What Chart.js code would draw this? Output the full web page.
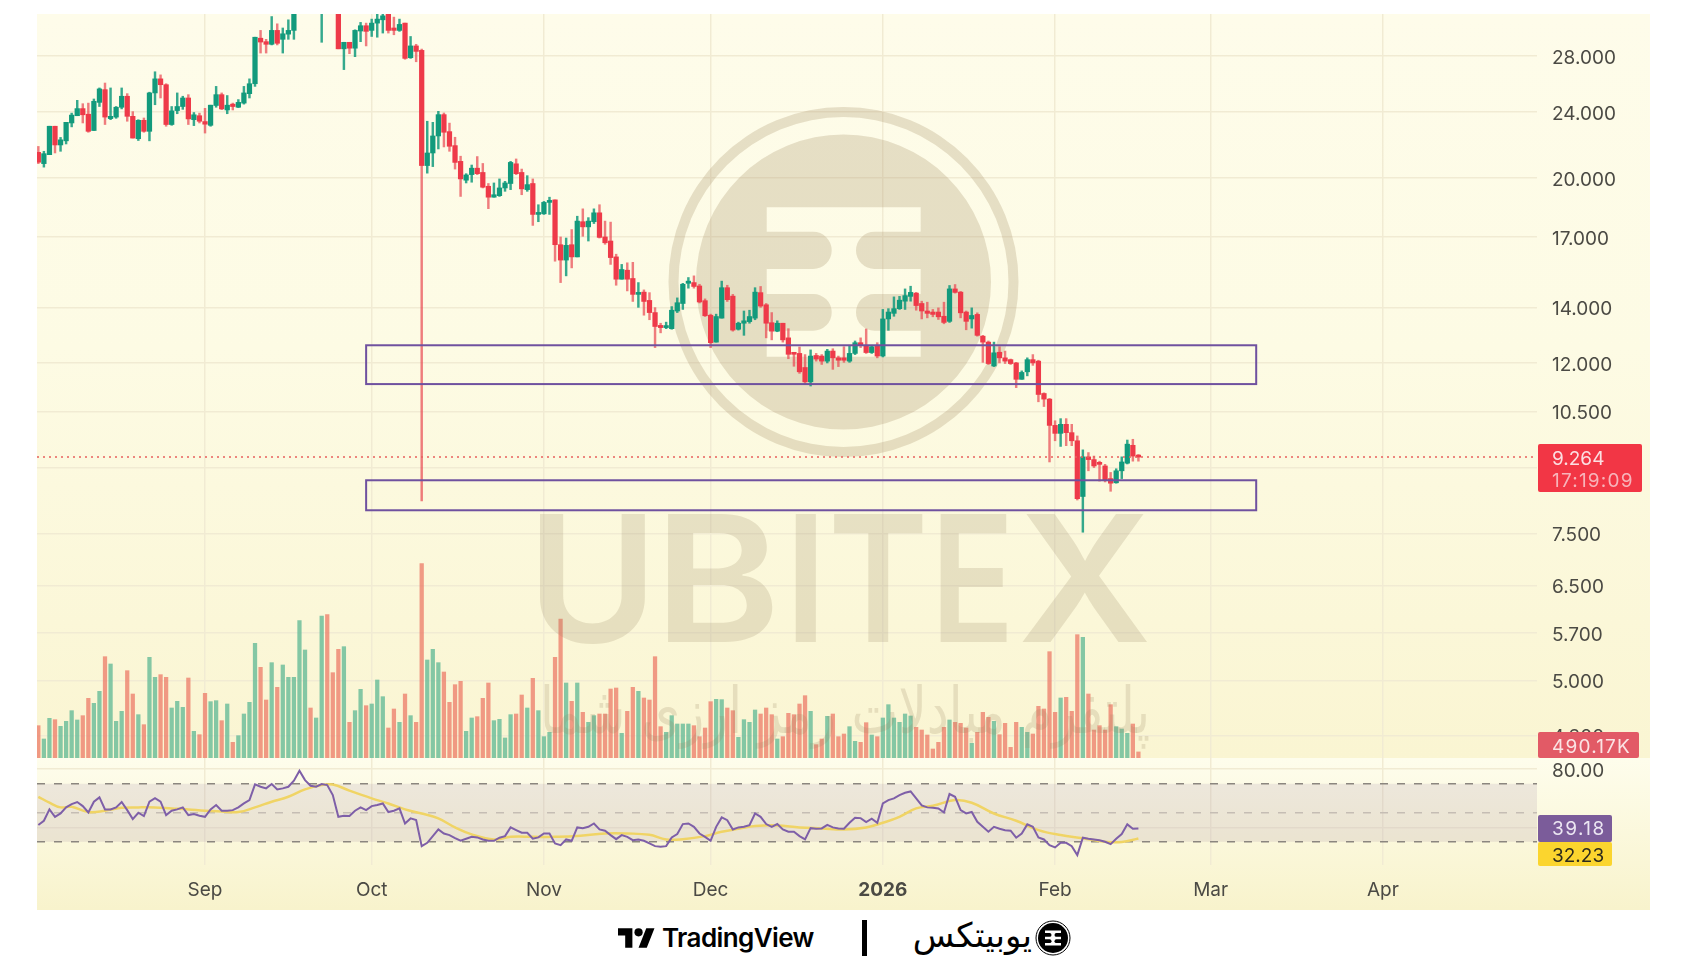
<!DOCTYPE html>
<html>
<head>
<meta charset="utf-8">
<script src="https://cdn.jsdelivr.net/npm/chart.js@4"></script>
<style>
  html, body { margin: 0; padding: 0; background: #fff; width: 1688px; height: 976px; overflow: hidden; }
  .pane { position: absolute; left: 37px; width: 1613px; }
  #pricePane { top: 14px; height: 744px; background: linear-gradient(#fefcea, #fdfbe4 45%, #faf5d2); }
  #rsiPane { top: 758px; height: 152px; background: linear-gradient(#fefdec, #fbf8dc 50%, #f8f3cc); }
  .abs { position: absolute; color: #000; white-space: nowrap; }
</style>
</head>
<body>
<div class="pane" id="pricePane"><canvas id="priceChart" width="1613" height="744"></canvas></div>
<div class="pane" id="rsiPane"><canvas id="rsiChart" width="1613" height="152"></canvas></div>

<svg class="abs" style="left:618px;top:924px" width="37" height="28" viewBox="0 0 36 27">
  <path d="M14 23H7V11H0V4h14v19zM28 23h-8l7.5-19h8L28 23z" fill="#000"/><circle cx="20" cy="8" r="4" fill="#000"/>
</svg>
<div class="abs" style="left:662px;top:922px;font:600 26px Inter;letter-spacing:-0.6px">TradingView</div>
<div class="abs" style="left:862px;top:920px;width:5px;height:36px;background:#000"></div>
<div class="abs" dir="rtl" style="right:656px;top:915px;font:400 34px 'DejaVu Sans'">یوبیتکس</div>
<svg class="abs" style="left:1035px;top:920px" width="36" height="36" viewBox="0 0 36 36">
  <circle cx="18" cy="18" r="17" fill="none" stroke="#000" stroke-width="1"/>
  <circle cx="18" cy="18" r="15" fill="#000"/>
  <rect x="10" y="10.5" width="16" height="15" fill="#fff"/>
  <rect x="6" y="13" width="10.5" height="3.8" rx="1.9" fill="#000"/><rect x="6" y="19.3" width="10.5" height="3.8" rx="1.9" fill="#000"/>
  <rect x="19.5" y="13" width="10.5" height="3.8" rx="1.9" fill="#000"/><rect x="19.5" y="19.3" width="10.5" height="3.8" rx="1.9" fill="#000"/>
</svg>

<script>
/* DATA */

// daily candles, first one is 2 Aug, day 0 is 1 Sep
const firstDay = -30
const opens = [
  21.47,20.81,21.33,23.07,21.91,22.16,23.28,23.75,24.22,23.85,
  22.8,24.64,25.52,23.56,23.66,24.31,25.06,23.71,22.29,23.45,
  22.75,25.29,26.29,25.87,23.18,24.09,24.36,24.94,23.49,23.75,
  23.37,23.13,24.43,25.17,24.13,24.52,24.31,24.59,25.24,25.94,
  29.41,29.13,28.92,30.05,29.32,29.74,30.05,33,34.2,35.4,
  34.5,34,36,35,33,28.56,29.08,28.61,30,30.44,
  30.05,30.66,30.94,31.45,30.25,30.05,30.66,27.87,28.79,28.44,
  20.7,21.43,22.46,23.82,22.73,21.87,20.94,19.88,20.19,20.55,
  20.31,19.55,18.97,19.05,19.46,19.7,20.8,20.31,19.37,19.7,
  18.09,18.12,18.7,18.83,16.64,15.95,16.64,16.09,17.73,17.48,
  17.73,18.17,17,16.81,16.09,15.13,15.51,15.16,14.51,14.6,
  14.27,13.8,13.32,13.24,13.2,13.86,14.15,14.96,14.99,14.85,
  14.26,13.7,12.72,13.59,14.78,14.44,13.18,13.4,13.46,13.59,
  14.58,14.1,13.42,13.11,13.4,12.87,12.33,12.33,11.86,11.4,
  12.26,12.24,12.07,12.41,12.18,12.18,12.07,12.33,12.7,12.61,
  12.36,12.61,12.24,13.56,13.77,13.95,14.24,14.43,14.56,14.15,
  13.86,13.82,13.82,13.66,13.47,14.73,14.6,13.82,13.56,13.73,
  12.93,12.72,11.91,12.37,12.18,12.12,12.01,11.48,11.72,12.12,
  12.07,11.04,10.87,10.11,9.89,10.14,9.91,9.69,8.31,9.27,
  9.2,9.12,9.04,8.73,8.63,8.92,9.11,9.57,9.29
]
const highs = [
  21.82,21.53,23.07,23.07,22.37,23.32,23.92,24.78,24.55,24.59,
  24.87,25.64,25.99,25.64,24.36,25.64,25.24,24.02,23.49,23.6,
  25.34,26.81,26.58,25.94,24.36,25.29,25.06,25.17,23.96,23.92,
  24.24,24.45,25.75,25.29,25.11,24.59,24.83,25.75,26.29,29.49,
  30.05,29.32,31.22,30.6,30.25,30.94,31.9,35,36.2,36.5,
  36.4,36.8,37,35.6,34.5,29.08,29.08,30.1,30.72,30.66,
  31,31.45,31.5,31.6,31.17,31,30.66,29.55,28.92,28.54,
  23.39,23.32,24.04,23.93,23.27,22.38,21.24,20.24,20.73,21.22,
  20.82,19.7,19.73,19.95,19.82,20.94,21.08,20.5,20.13,19.95,
  18.58,18.75,18.97,18.83,17,16.95,17.35,18,18.37,17.93,
  18.37,18.58,17.76,17.71,16.21,15.76,15.83,15.85,14.99,14.69,
  14.58,13.99,13.4,13.44,14.03,14.37,14.96,15.2,15.27,14.92,
  14.33,13.74,13.74,15.05,14.88,14.51,13.44,13.86,13.89,14.78,
  14.83,14.15,13.8,13.49,13.4,13.2,12.35,12.55,12.29,12.45,
  12.33,12.29,12.47,12.49,12.24,12.56,12.61,12.76,12.87,13.19,
  12.61,12.7,13.92,13.95,14.41,14.43,14.73,14.84,14.59,14.24,
  14.2,13.92,13.98,14.2,14.87,14.91,14.63,13.86,13.98,13.79,
  12.96,12.76,12.72,12.56,12.41,12.14,12.03,11.75,12.18,12.29,
  12.1,11.06,10.89,10.24,10.3,10.3,10.14,9.82,9.45,9.38,
  9.29,9.16,9.08,8.88,8.97,9.27,9.71,9.73,9.33
]
const lows = [
  20.81,20.61,21.33,21.43,21.53,21.97,23.03,23.75,23.28,22.69,
  22.8,24.36,23.18,23.49,23.58,24.2,23.39,22.33,22.18,22.69,
  22.16,24.48,24.94,23.07,23.13,23.88,24.17,23.18,23.11,23.28,
  22.64,23.07,24.31,24.15,23.88,24.13,24.29,24.52,24.94,25.75,
  28.23,28.23,28.87,28.87,28.23,29.32,29.32,32,33,33.8,
  33.6,29.08,34,32.4,28.56,26.97,28.18,27.95,29.13,28.79,
  29.55,29.49,29.83,29.83,29.69,29.97,27.75,27.82,27.56,8.21,
  20.27,20.64,21.67,21.79,21.53,20.5,19.01,19.73,19.77,20.19,
  19.46,18.38,18.97,19.01,19.28,19.37,20.19,19.1,19.28,17.55,
  17.73,18.09,18.09,15.9,14.99,15.27,15.61,16.09,17.03,16.81,
  17.64,16.95,16.66,15.76,14.88,15.13,14.65,14.23,14,13.7,
  13.53,12.53,13.05,13.2,13.18,13.8,13.92,14.76,14.76,14.17,
  13.65,12.53,12.72,13.59,14.23,13.11,13.15,12.96,13.4,13.53,
  14,12.87,12.8,13.09,12.72,12.15,11.9,11.67,11.33,11.27,
  12.07,11.96,12.01,11.8,11.89,12.03,12.03,12.29,12.53,12.33,
  12.33,12.18,12.21,13.14,13.66,13.92,13.92,14.24,13.89,13.56,
  13.6,13.64,13.54,13.38,13.43,14.56,13.6,13.16,13.22,12.93,
  12.03,11.96,11.89,12.01,11.99,11.96,11.22,11.48,11.59,11.93,
  10.79,10.65,9.14,9.69,9.54,9.56,9.56,8.23,7.53,8.92,
  9,8.67,8.65,8.43,8.62,8.73,9.09,9.16,9.16
]
const closes = [
  20.89,21.39,23.07,21.91,22.22,23.32,23.79,24.22,23.81,22.75,
  24.71,25.57,23.66,23.71,24.31,25.06,23.71,22.33,23.45,22.75,
  25.29,26.29,25.87,23.18,24.07,24.36,24.94,23.54,23.81,23.39,
  23.2,24.45,25.17,24.2,24.45,24.36,24.64,25.29,25.94,29.49,
  29.1,28.92,30.05,29,29.77,30.05,31.5,34.2,35.4,34.5,
  35.6,36,35,33,28.56,29.08,28.61,30.05,30.44,29.97,
  30.66,31,31.28,30.05,30.05,30.55,27.82,28.79,28.36,20.7,
  21.43,22.46,23.82,22.69,21.83,20.88,19.95,20.17,20.55,20.24,
  19.5,18.97,19.1,19.46,19.73,20.88,20.24,19.41,19.64,18.09,
  18.17,18.7,18.75,16.64,15.95,16.61,16.09,17.76,17.48,17.76,
  18.17,16.98,16.73,16.06,15.13,15.54,15.13,14.51,14.58,14.23,
  13.8,13.28,13.24,13.3,13.89,14.18,14.92,15.05,14.83,14.21,
  13.68,12.7,13.65,14.78,14.3,13.15,13.4,13.49,13.65,14.6,
  14.05,13.4,13.11,13.4,12.8,12.3,12.3,11.72,11.4,12.24,
  12.14,12.07,12.41,12.18,12.1,12.1,12.33,12.7,12.61,12.36,
  12.56,12.24,13.56,13.82,13.95,14.28,14.46,14.59,14.07,13.86,
  13.77,13.73,13.64,13.43,14.73,14.59,13.79,13.47,13.69,12.96,
  12.72,11.99,12.35,12.18,12.07,11.99,11.48,11.7,12.12,12.01,
  11.01,10.87,10.11,9.89,10.14,9.91,9.69,8.26,9.27,9.2,
  9.04,9.08,8.7,8.62,8.92,9.14,9.6,9.29,9.264
]
// volume in thousands
const volumes = [
  2619,1539,3213,3105,2565,2970,3834,3078,3429,4833,
  4428,5400,8208,7614,2970,3780,7074,5184,3510,2700,
  8154,6534,6750,6534,4050,4590,4104,6480,2160,1890,
  5238,4563,4644,3024,4374,1269,1809,3564,4509,9288,
  7344,4698,7722,5724,7533,6534,6534,11124,8748,4050,
  3240,11502,11610,6912,8802,9018,2889,3834,5562,4239,
  4374,6318,4968,2430,3969,2889,5184,3429,2889,15741,
  7938,8802,7722,6966,4509,5940,6210,2160,3240,3348,
  4833,6075,3024,3132,1620,3510,3564,5103,4050,6453,
  3834,1728,2079,8154,11259,6075,4590,6075,3699,2889,
  3429,3564,3564,5589,5670,1998,3780,5724,5400,4860,
  4698,8208,2538,2079,3429,2754,2754,2754,2619,1728,
  2430,4563,4752,4725,4050,3834,1674,3105,2889,3888,
  3564,4050,3510,1539,1728,3618,3510,4374,5049,3780,
  1080,1539,3375,3564,1728,1944,2538,1350,1269,2862,
  1863,1728,3240,4320,3240,2889,3564,3402,2484,2268,
  1863,729,1269,2484,3078,2889,2808,2430,1188,2079,
  3699,3294,2970,1890,2808,864,2889,2484,2079,1944,
  4185,3969,8613,3699,4860,4914,3780,9990,9774,5184,
  2268,2619,2268,4320,2538,2349,1998,2754,490.17
]
const rsiValues = [
  41.5,44.5,52.3,47.2,49.5,53.7,56,57.4,54.6,50.2,
  57.6,60.6,52.3,52.3,53.7,57.4,51.8,45.6,50,47.7,
  57.6,60.1,57.6,48.4,51.4,52.3,53.7,48.4,49.1,47.9,
  47.2,52.3,55.3,51.4,51.4,51.8,53.7,56.4,58.7,69.5,
  67.9,66.8,69.8,66.1,66.8,67.9,72.1,79,72.5,68.6,
  67.9,69.8,69.1,62.2,47.2,47.9,47.7,51.4,53.7,51.8,
  54.6,55.3,56.4,50.5,51.4,53,42.6,46.1,44.9,27,
  29.3,33.9,38.5,35.7,34.6,32.5,30.7,32.1,33.4,33,
  31.6,30.7,30.7,32.8,33.9,39.9,38,36.2,36.2,32.1,
  33,35.7,35.7,28.9,27.7,31.6,30.7,39.9,39.4,40.3,
  42.6,38.5,37.6,34.6,31.8,34.6,33.4,31.1,31.6,30.7,
  28.9,27,26.6,27,33,35.3,42.2,42.6,40.3,35.7,
  33.4,30.7,40.3,46.8,44.9,38.5,39.9,40.3,41.5,49.5,
  47.2,42.2,40.3,42.2,38.5,36.9,36.9,33.9,31.6,39.4,
  39,39.2,41.7,39.9,39.2,39,43.1,46.6,46.3,43.6,
  45.9,43.1,56.4,58.7,59.9,62.2,63.8,64.7,59.9,55.1,
  53.7,53.4,53,50.2,62.9,61,51.8,49.5,50.5,43.8,
  40.3,36.9,40.3,39,38,37.6,32.8,35.7,42,40.3,
  33,31.6,27.7,26.1,29.3,29.3,27,20.8,32.8,32.1,
  31.6,31.1,30,28.4,32.1,35.3,42,39,39.18
]
// moving average of RSI, read at every few candles
const rsiMaCandles = [0,2,4,6,9,12,15,18,21,24,27,30,33,36,39,42,45,48,51,53,56,60,63,66,69,72,75,78,82,85,89,93,97,102,106,110,113,116,120,123,126,129,133,137,141,145,149,152,155,158,161,165,168,172,176,180,184,188,192,195,198]
const rsiMaValues = [61,56.9,53.7,54.1,50.5,51.4,53.4,53.7,53.7,53,52.3,51.4,50.9,50.5,53.7,57.6,61,66.1,69.1,69.5,65.2,59.9,56.4,52.3,49.5,46.1,39.9,35.1,31.6,33.4,33.4,33.4,33.9,35.7,35.7,34.8,31.6,31.8,33.9,36.9,39,40.8,41.3,39.9,39.2,38.5,39.9,43.1,47.2,53,54.8,58.7,56.9,49.5,44.5,38,34.6,32.5,30,29.8,32.23]

const priceTicks = [28, 24, 20, 17, 14, 12, 10.5, 9, 7.5, 6.5, 5.7, 5, 4.3]
const rsiTicks = [80, 40]
const rsiLevels = [70, 50, 30]
const monthDays = [0, 30, 61, 91, 122, 153, 181, 212]
const monthLabels = ['Sep', 'Oct', 'Nov', 'Dec', '2026', 'Feb', 'Mar', 'Apr']

// the two boxes marked on the price pane
const zoneTops = [12.61, 8.69]
const zoneBottoms = [11.33, 8.0]
const zoneFirstDay = 29
const zoneLastDay = 189.2

const lastPrice = 9.264
const countdown = '17:19:09'
const lastVolumeLabel = '490.17K'
const lastRsi = '39.18'
const lastRsiMa = '32.23'

/* CHART HELPERS */

const GREEN = '#129a7c'
const RED = '#ee3a49'
const GREEN_WICK = 'rgba(18,154,124,0.85)'
const RED_WICK = 'rgba(232,70,80,0.7)'
// lineHeight 4px + the empty first line in the callback pushes y labels 2px down
const LABEL_FONT = { family: 'Inter', size: 19 }
const Y_LABEL_FONT = { family: 'Inter', size: 19, lineHeight: '4px' }
const LABEL_COLOR = '#4b4a44'
const GRID_COLOR = '#f1ebd3'
const WATERMARK = 'rgba(165,145,105,0.27)'
const WATERMARK_TEXT = 'rgba(150,130,95,0.2)'

const candleDays = opens.map((_, i) => firstDay + i)
const isUp = opens.map((o, i) => closes[i] >= o)

function fixedAxis(size, key) {
  return (scale) => {
    scale[key] = size
    scale.paddingTop = 0
    scale.paddingBottom = 0
    scale.paddingLeft = 0
    scale.paddingRight = 0
  }
}

function timeAxis(showLabels) {
  return {
    type: 'linear',
    offset: false,
    min: -30.24,
    max: 239.74,
    afterBuildTicks: (scale) => { scale.ticks = monthDays.map((v) => ({ value: v })) },
    afterFit: fixedAxis(showLabels ? 45 : 0, 'height'),
    border: { display: false },
    grid: { offset: false, color: GRID_COLOR, lineWidth: 1.5, drawTicks: false },
    ticks: {
      display: showLabels,
      autoSkip: false,
      maxRotation: 0,
      padding: 14,
      color: LABEL_COLOR,
      font: (ctx) => ctx.tick && ctx.tick.value === 122 ? { ...LABEL_FONT, weight: '700' } : LABEL_FONT,
      callback: (v) => monthLabels[monthDays.indexOf(v)]
    }
  }
}

function drawTag(ctx, x, y, w, h, fill) {
  ctx.fillStyle = fill
  ctx.beginPath()
  ctx.roundRect(x, y, w, h, 2)
  ctx.fill()
}

function drawLabel(ctx, text, x, y, color, spacing = 0) {
  ctx.fillStyle = color
  ctx.font = '19px Inter'
  ctx.letterSpacing = spacing + 'px'
  ctx.textAlign = 'left'
  ctx.textBaseline = 'middle'
  ctx.fillText(text, x, y)
  ctx.letterSpacing = '0px'
}

/* WATERMARK */

const watermarkLetters = [['U', 539, 106], ['B', 667, 106], ['I', 795, 21], ['T', 834, 89], ['E', 940, 67], ['X', 1022, 126]]

function drawWatermarkLogo(ctx) {
  const cx = 843.5
  const cy = 282
  ctx.fillStyle = WATERMARK
  ctx.beginPath()
  ctx.arc(cx, cy, 175, 0, Math.PI * 2)
  ctx.arc(cx, cy, 165, 0, Math.PI * 2, true)
  ctx.fill()

  ctx.beginPath()
  ctx.arc(cx, cy, 147.5, 0, Math.PI * 2)
  ctx.rect(766.7, 207.3, 154, 149.4)
  ctx.fill('evenodd')

  ctx.beginPath()
  ctx.roundRect(766.7, 231.7, 65, 37.3, [0, 18.6, 18.6, 0])
  ctx.roundRect(766.7, 294, 65, 36.7, [0, 18.3, 18.3, 0])
  ctx.roundRect(856, 231.7, 64.7, 37.3, [18.6, 0, 0, 18.6])
  ctx.roundRect(856, 294, 64.7, 36.7, [18.3, 0, 0, 18.3])
  ctx.fill()
}

function drawWatermarkText(ctx) {
  ctx.fillStyle = WATERMARK_TEXT
  ctx.font = '600 176px Inter'
  ctx.textAlign = 'left'
  ctx.textBaseline = 'alphabetic'
  watermarkLetters.forEach(([ch, left, width]) => {
    const m = ctx.measureText(ch)
    const sx = width / (m.actualBoundingBoxLeft + m.actualBoundingBoxRight)
    const sy = 128 / m.actualBoundingBoxAscent
    ctx.save()
    ctx.translate(left + m.actualBoundingBoxLeft * sx, 642)
    ctx.scale(sx, sy)
    ctx.fillText(ch, 0, 0)
    ctx.restore()
  })

  ctx.font = '64px "DejaVu Sans"'
  ctx.direction = 'rtl'
  ctx.textAlign = 'center'
  ctx.fillText('پلتفرم مبادلات رمز ارزی شما', 845, 733, 610)
  ctx.direction = 'ltr'
}

const pricePlugin = {
  id: 'priceOverlay',
  beforeDatasetsDraw(chart) {
    const { ctx } = chart
    ctx.save()
    ctx.translate(-37, -14)
    drawWatermarkLogo(ctx)
    ctx.restore()
  },
  afterDatasetsDraw(chart) {
    const { ctx, chartArea, scales: { x, y } } = chart
    const py = y.getPixelForValue(lastPrice)
    ctx.save()
    ctx.translate(-37, -14)
    drawWatermarkText(ctx)
    ctx.restore()

    ctx.save()
    ctx.strokeStyle = '#e8605e'
    ctx.lineWidth = 1.5
    ctx.setLineDash([2, 4])
    ctx.beginPath()
    ctx.moveTo(chartArea.left, py)
    ctx.lineTo(chartArea.right, py)
    ctx.stroke()
    ctx.setLineDash([])
    ctx.strokeStyle = '#6f519f'
    ctx.lineWidth = 2
    zoneTops.forEach((top, i) => {
      const left = x.getPixelForValue(zoneFirstDay)
      const right = x.getPixelForValue(zoneLastDay)
      const yTop = y.getPixelForValue(top)
      ctx.strokeRect(left, yTop, right - left, y.getPixelForValue(zoneBottoms[i]) - yTop)
    })
    ctx.restore()
  },
  afterDraw(chart) {
    const { ctx, chartArea, scales: { y } } = chart
    const left = chartArea.right + 1
    const py = y.getPixelForValue(lastPrice)
    ctx.save()
    drawTag(ctx, left, py - 13, 104, 48, '#f23645')
    drawLabel(ctx, lastPrice.toFixed(3), left + 14, py + 2, '#fbdfe2')
    drawLabel(ctx, countdown, left + 14, py + 24, '#f7b4ba', 1.2)
    drawTag(ctx, left, chartArea.bottom - 26, 101, 26, '#e25a66')
    drawLabel(ctx, lastVolumeLabel, left + 14, chartArea.bottom - 11, '#fbe3e4', 1.2)
    ctx.restore()
  }
}

const rsiPlugin = {
  id: 'rsiOverlay',
  beforeDatasetsDraw(chart) {
    const { ctx, chartArea, scales: { y } } = chart
    const top = y.getPixelForValue(rsiLevels[0])
    const bottom = y.getPixelForValue(rsiLevels[2])
    ctx.save()
    ctx.fillStyle = 'rgba(126,87,140,0.12)'
    ctx.fillRect(chartArea.left, top, chartArea.right - chartArea.left, bottom - top)
    ctx.lineWidth = 1.5
    ctx.setLineDash([8, 9])
    rsiLevels.forEach((level) => {
      ctx.strokeStyle = level === 50 ? '#c5bdb4' : '#8b867f'
      const py = y.getPixelForValue(level)
      ctx.beginPath()
      ctx.moveTo(chartArea.left, py)
      ctx.lineTo(chartArea.right, py)
      ctx.stroke()
    })
    ctx.restore()
  },
  afterDraw(chart) {
    const { ctx, chartArea } = chart
    const left = chartArea.right + 1
    ctx.save()
    drawTag(ctx, left, 57, 74, 27, '#7b5c9a')
    drawLabel(ctx, lastRsi, left + 14, 71, '#ece6f2', 1.5)
    drawTag(ctx, left, 84, 74, 24, '#fbd52e')
    drawLabel(ctx, lastRsiMa, left + 14, 98, '#2c2a1c')
    ctx.restore()
  }
}

/* PRICE PANE */

new Chart(document.getElementById('priceChart'), {
  type: 'bar',
  data: {
    datasets: [
      {
        label: 'Body',
        order: 1,
        barThickness: 4.6,
        minBarLength: 2,
        grouped: false,
        data: candleDays.map((d, i) => ({ x: d, y: [opens[i], closes[i]] })),
        backgroundColor: isUp.map((u) => u ? GREEN : RED)
      },
      {
        label: 'Wick',
        order: 2,
        barThickness: 1.8,
        grouped: false,
        data: candleDays.map((d, i) => ({ x: d, y: [lows[i], highs[i]] })),
        backgroundColor: isUp.map((u) => u ? GREEN_WICK : RED_WICK)
      },
      {
        label: 'Volume',
        order: 3,
        yAxisID: 'yVol',
        barThickness: 3.6,
        grouped: false,
        data: candleDays.map((d, i) => ({ x: d, y: volumes[i] })),
        backgroundColor: isUp.map((u) => u ? 'rgba(110,190,155,0.85)' : 'rgba(238,130,110,0.8)')
      }
    ]
  },
  options: {
    responsive: false,
    animation: false,
    layout: { padding: 0 },
    plugins: { legend: { display: false }, tooltip: { enabled: false } },
    scales: {
      x: timeAxis(false),
      y: {
        type: 'logarithmic',
        position: 'right',
        min: 4.04,
        max: 31.44,
        afterBuildTicks: (scale) => { scale.ticks = priceTicks.map((v) => ({ value: v })) },
        afterFit: fixedAxis(113, 'width'),
        border: { display: false },
        grid: { color: GRID_COLOR, lineWidth: 1.5, drawTicks: false },
        ticks: {
          autoSkip: false,
          padding: 15,
          color: LABEL_COLOR,
          font: Y_LABEL_FONT,
          callback: (v) => ['', Number(v).toFixed(3)]
        }
      },
      yVol: { display: false, min: 0, max: 60264 }
    }
  },
  plugins: [pricePlugin]
})

/* RSI PANE */

new Chart(document.getElementById('rsiChart'), {
  type: 'line',
  data: {
    datasets: [
      {
        label: 'RSI',
        order: 1,
        data: candleDays.map((d, i) => ({ x: d, y: rsiValues[i] })),
        borderColor: '#7e5fa8',
        borderWidth: 2,
        pointRadius: 0,
        tension: 0
      },
      {
        label: 'RSI MA',
        order: 2,
        data: rsiMaCandles.map((c, i) => ({ x: firstDay + c, y: rsiMaValues[i] })),
        borderColor: '#f0d465',
        borderWidth: 2.5,
        pointRadius: 0,
        tension: 0.4
      }
    ]
  },
  options: {
    responsive: false,
    animation: false,
    layout: { padding: 0 },
    plugins: { legend: { display: false }, tooltip: { enabled: false } },
    scales: {
      x: timeAxis(true),
      y: {
        type: 'linear',
        position: 'right',
        min: 14,
        max: 87.72,
        afterBuildTicks: (scale) => { scale.ticks = rsiTicks.map((v) => ({ value: v })) },
        afterFit: fixedAxis(113, 'width'),
        border: { display: false },
        grid: { color: GRID_COLOR, lineWidth: 1.5, drawTicks: false },
        ticks: {
          autoSkip: false,
          padding: 15,
          color: LABEL_COLOR,
          font: Y_LABEL_FONT,
          callback: (v) => ['', Number(v).toFixed(2)]
        }
      }
    }
  },
  plugins: [rsiPlugin]
})
</script>
</body>
</html>
